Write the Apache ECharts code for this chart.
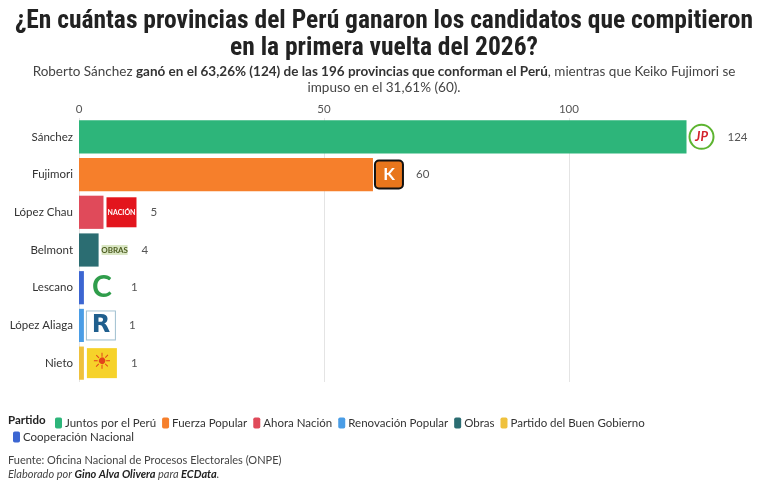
<!DOCTYPE html>
<html><head><meta charset="utf-8">
<script src="https://cdn.jsdelivr.net/npm/echarts@6/dist/echarts.min.js"></script>
<style>html,body{margin:0;padding:0;background:#fff}#c{width:768px;height:489px}</style>
</head><body><div id="c"></div>
<script>
const categories = ['Sánchez','Fujimori','López Chau','Belmont','Lescano','López Aliaga','Nieto'];
const values = [124, 60, 5, 4, 1, 1, 1];
const parties = ['Juntos por el Perú','Fuerza Popular','Ahora Nación','Obras','Cooperación Nacional','Renovación Popular','Partido del Buen Gobierno'];
const colors = ['#2db57a','#f67f2b','#e04a5a','#2b6d72','#3c66d2','#4a9de6','#efc13d'];
const logoKeys = ['jp','k','an','ob','c','r','sun'];
const logoText = ['JP','K','NACIÓN','OBRAS','C','R','☀'];
const tickValues = [0, 50, 100];
const legendRow1 = ['Juntos por el Perú','Fuerza Popular','Ahora Nación','Renovación Popular','Obras','Partido del Buen Gobierno'];
const legendRow2 = ['Cooperación Nacional'];

const BODY = 'Lato, "Noto Sans", sans-serif';
const rich = {
  jp: {color:'#d3212b', fontSize:13, fontWeight:'bold', fontStyle:'italic', borderColor:'#5db430', borderWidth:2, borderRadius:15, width:24, height:24, align:'center', fontFamily:BODY},
  k: {color:'#fff', fontSize:17, fontWeight:'bold', backgroundColor:'#e8761c', borderColor:'#111', borderWidth:2, borderRadius:3, width:26, height:26, align:'center', fontFamily:BODY},
  an: {color:'#fff', fontSize:7, fontWeight:'bold', backgroundColor:'#e3151d', width:30, height:30, align:'center', fontFamily:BODY},
  ob: {color:'#4f5e23', fontSize:8, fontWeight:'bold', backgroundColor:'#d9e6c3', width:26, height:10, align:'center', fontFamily:BODY},
  c: {color:'#2f9d4b', fontSize:30, fontWeight:'bold', width:30, height:30, align:'center', fontFamily:BODY},
  r: {color:'#1f5f8e', fontSize:24, fontWeight:'bold', backgroundColor:'#fff', borderColor:'#9fbfd0', borderWidth:1, width:28, height:28, align:'center', fontFamily:'"DejaVu Sans", sans-serif'},
  sun: {color:'#e3441a', fontSize:22, backgroundColor:'#f6d22a', width:30, height:30, align:'center', fontFamily:'"DejaVu Sans", sans-serif'},
  gap: {width:14},
  v: {color:'#555', fontSize:11.5, fontFamily:BODY}
};

const series = parties.map((p, i) => ({
  name: p,
  type: 'bar',
  stack: 'all',
  barWidth: '88%',
  itemStyle: {color: colors[i]},
  data: categories.map((c, j) => j === i ? values[j] : '-'),
  label: {
    show: true, position: 'right', distance: 3,
    formatter: (pp) => '{' + logoKeys[i] + '|' + logoText[i] + '}{gap|}{v|' + pp.value + '}',
    rich: rich
  }
}));

const chart = echarts.init(document.getElementById('c'), null, {renderer:'canvas'});
chart.setOption({
  animation: false,
  backgroundColor: '#fff',
  grid: {left:79, top:118, width:681, height:264},
  xAxis: {
    type:'value', position:'top', min:0, max:139, interval:50,
    axisLine:{show:false}, axisTick:{show:false},
    axisLabel:{color:'#555', fontSize:11.5, fontFamily:BODY, margin:3, showMaxLabel:false,
      formatter: (v) => tickValues.indexOf(v) >= 0 ? String(v) : ''},
    splitLine:{showMaxLine:false, lineStyle:{color:'#e4e4e4', width:1}}
  },
  yAxis: {
    type:'category', data: categories, inverse:true,
    axisLine:{show:false}, axisTick:{show:false},
    axisLabel:{color:'#333', fontSize:11.5, fontFamily:BODY, margin:6}
  },
  legend: [
    {data: legendRow1, left:50, top:412, itemWidth:7, itemHeight:11, itemGap:6, icon:'roundRect',
     textStyle:{color:'#333', fontSize:11.5, fontFamily:BODY, padding:[0,0,0,-2]}, selectedMode:false},
    {data: legendRow2, left:8, top:426, itemWidth:7, itemHeight:11, itemGap:6, icon:'roundRect',
     textStyle:{color:'#333', fontSize:11.5, fontFamily:BODY, padding:[0,0,0,-2]}, selectedMode:false}
  ],
  graphic: [
    {type:'text', x:384, y:8, style:{
      text:'¿En cuántas provincias del Perú ganaron los candidatos que compitieron\nen la primera vuelta del 2026?',
      align:'center', font:'bold 25.5px "Liberation Sans Narrow", "Roboto Condensed", Roboto, sans-serif',
      lineHeight:27, fill:'#222'}},
    {type:'text', x:384, y:64, style:{
      text:'Roberto Sánchez {b|ganó en el 63,26% (124) de las 196 provincias que conforman el Perú}, mientras que Keiko Fujimori se\nimpuso en el 31,61% (60).',
      align:'center', fontFamily:BODY, fontSize:13.5, fill:'#444', lineHeight:16,
      rich:{b:{fontFamily:BODY, fontSize:13.5, fontWeight:'bold', fill:'#333', lineHeight:16}}}},
    {type:'text', left:8, top:414, style:{text:'Partido', font:'bold 11.5px ' + BODY, fill:'#222'}},
    {type:'text', left:8, top:455, style:{text:'Fuente: Oficina Nacional de Procesos Electorales (ONPE)', font:'11px ' + BODY, fill:'#444'}},
    {type:'text', left:8, top:469, style:{
      text:'{i|Elaborado por }{b|Gino Alva Olivera}{i| para }{b|ECData}{i|.}',
      rich:{i:{fontFamily:BODY, fontSize:11, fontStyle:'italic', fill:'#444'},
            b:{fontFamily:BODY, fontSize:11, fontStyle:'italic', fontWeight:'bold', fill:'#222'}}}}
  ],
  series: series
});
</script></body></html>
